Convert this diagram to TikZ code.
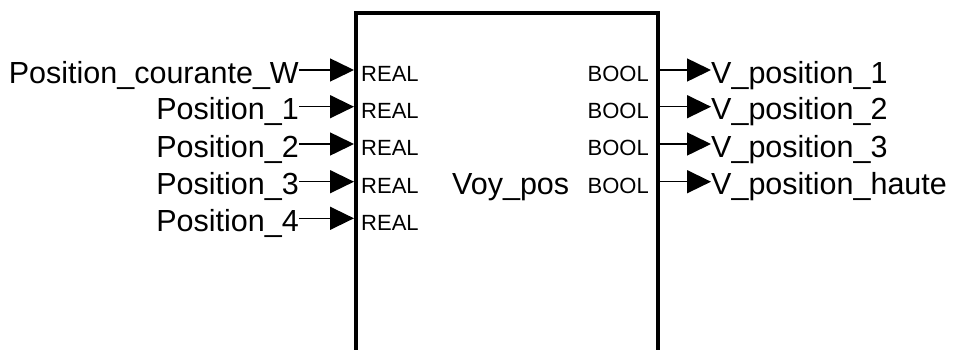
\documentclass[tikz,border=0pt]{standalone}
\usepackage{fontspec}
\setmainfont{Liberation Sans}
\usetikzlibrary{arrows.meta}

\begin{document}
\begin{tikzpicture}[x=1pt, y=-1pt,
  sig/.style={line width=1.5pt, -{Triangle[length=24pt, width=23pt]}},
  sigtext/.style={inner sep=0pt, text height=26pt, text depth=0pt, font=\fontsize{30.5}{36}\selectfont},
  porttext/.style={inner sep=0pt, text height=23.4pt, text depth=0pt, font=\fontsize{22}{26}\selectfont}]
\useasboundingbox (0,0) rectangle (955,349);

% block
\draw [line width=4pt] (356,355) -- (356,12.5) -- (658,12.5) -- (658,355);
\node [sigtext, anchor=west] (fbname) at (452,181.7) {Voy\_pos};

% inputs
\node [sigtext, anchor=east] (in1) at (299,70) {Position\_courante\_W};
\node [sigtext, anchor=east] (in2) at (299,106.7) {Position\_1};
\node [sigtext, anchor=east] (in3) at (299,144) {Position\_2};
\node [sigtext, anchor=east] (in4) at (299,181.7) {Position\_3};
\node [sigtext, anchor=east] (in5) at (299,218.3) {Position\_4};
\coordinate (pin1) at (354,70);
\coordinate (pin2) at (354,106.7);
\coordinate (pin3) at (354,144);
\coordinate (pin4) at (354,181.7);
\coordinate (pin5) at (354,218.3);
\draw [sig] (in1.east) -- (pin1);
\draw [sig] (in2.east) -- (pin2);
\draw [sig] (in3.east) -- (pin3);
\draw [sig] (in4.east) -- (pin4);
\draw [sig] (in5.east) -- (pin5);
\node [porttext, anchor=west] (tin1) at (361,70) {REAL};
\node [porttext, anchor=west] (tin2) at (361,106.7) {REAL};
\node [porttext, anchor=west] (tin3) at (361,144) {REAL};
\node [porttext, anchor=west] (tin4) at (361,181.7) {REAL};
\node [porttext, anchor=west] (tin5) at (361,218.3) {REAL};

% outputs
\node [porttext, anchor=east] (tout1) at (649,70) {BOOL};
\node [porttext, anchor=east] (tout2) at (649,106.7) {BOOL};
\node [porttext, anchor=east] (tout3) at (649,144) {BOOL};
\node [porttext, anchor=east] (tout4) at (649,181.7) {BOOL};
\coordinate (pout1) at (660,70);
\coordinate (pout2) at (660,106.7);
\coordinate (pout3) at (660,144);
\coordinate (pout4) at (660,181.7);
\node [sigtext, anchor=west] (out1) at (711,70) {V\_position\_1};
\node [sigtext, anchor=west] (out2) at (711,106.7) {V\_position\_2};
\node [sigtext, anchor=west] (out3) at (711,144) {V\_position\_3};
\node [sigtext, anchor=west] (out4) at (711,181.7) {V\_position\_haute};
\draw [sig] (pout1) -- (out1.west);
\draw [sig] (pout2) -- (out2.west);
\draw [sig] (pout3) -- (out3.west);
\draw [sig] (pout4) -- (out4.west);
\end{tikzpicture}
\end{document}
